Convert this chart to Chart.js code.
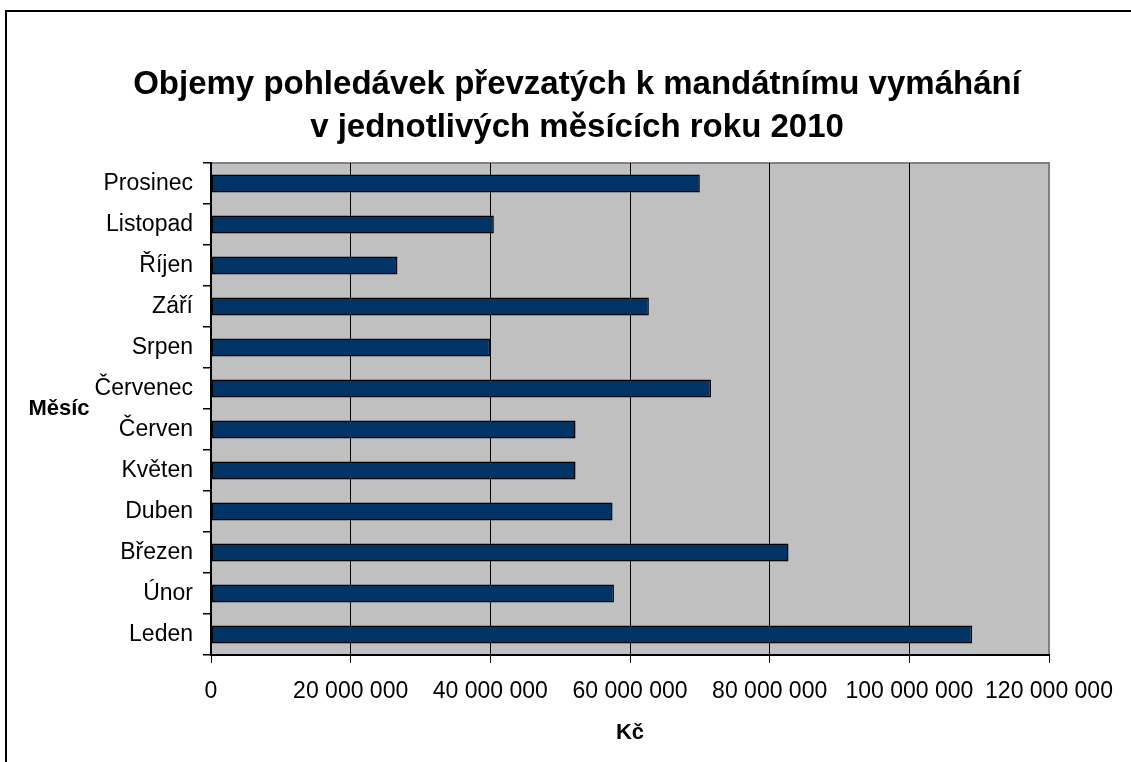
<!DOCTYPE html>
<html>
<head>
<meta charset="utf-8">
<script src="https://cdn.jsdelivr.net/npm/chart.js@4/dist/chart.umd.min.js"></script>
<style>
    html, body { margin: 0; padding: 0; background: #fff; }
    #wrap { width: 1131px; height: 762px; }
</style>
</head>
<body>
<div id="wrap"><canvas id="myChart" width="1131" height="762"></canvas></div>
<script>
// data (Kč per month, 2010)
var mesice = ['Leden', 'Únor', 'Březen', 'Duben', 'Květen', 'Červen', 'Červenec', 'Srpen', 'Září', 'Říjen', 'Listopad', 'Prosinec'];
var objemy = [109000000, 57700000, 82700000, 57500000, 52200000, 52200000, 71600000, 40000000, 62700000, 26700000, 40500000, 70000000];
var titulek = ['Objemy pohledávek převzatých k mandátnímu vymáhání', 'v jednotlivých měsících roku 2010'];
var osaX = 'Kč';
var osaY = 'Měsíc';

var pismo = '"Liberation Sans", Arial, sans-serif';

// mezery jako oddělovač tisíců
function formatKc(value) {
    return String(value).replace(/\B(?=(\d{3})+(?!\d))/g, ' ');
}

var pozadi = {
    id: 'pozadi',
    beforeDraw: (chart) => {
        var ctx = chart.ctx;
        var a = chart.chartArea;
        ctx.save();
        ctx.fillStyle = '#fff';
        ctx.fillRect(0, 0, chart.width, chart.height);
        // ramecek grafu
        ctx.strokeStyle = '#000';
        ctx.lineWidth = 2;
        ctx.strokeRect(6, 11, chart.width + 20, chart.height + 20);
        // plocha grafu
        ctx.fillStyle = '#c0c0c0';
        ctx.fillRect(a.left, a.top, a.right - a.left, a.bottom - a.top);
        ctx.strokeStyle = '#808080';
        ctx.lineWidth = 2;
        ctx.beginPath();
        ctx.moveTo(a.left, a.top);
        ctx.lineTo(a.right, a.top);
        ctx.lineTo(a.right, a.bottom);
        ctx.stroke();
        ctx.restore();
    },
    afterDraw: (chart) => {
        var ctx = chart.ctx;
        var a = chart.chartArea;
        ctx.save();
        ctx.fillStyle = '#000';
        ctx.textAlign = 'center';
        ctx.textBaseline = 'middle';
        ctx.font = 'bold 33px ' + pismo;
        ctx.fillText(titulek[0], 577, 85);
        ctx.fillText(titulek[1], 577, 128);
        ctx.font = 'bold 22px ' + pismo;
        ctx.fillText(osaY, 59, (a.top + a.bottom) / 2);
        ctx.restore();
    }
};

var ctx = document.getElementById('myChart').getContext('2d');
var myChart = new Chart(ctx, {
    type: 'bar',
    data: {
        labels: mesice,
        datasets: [{
            label: osaX,
            data: objemy,
            backgroundColor: '#003366',
            borderColor: '#000',
            borderWidth: 1.5,
            borderSkipped: false,
            categoryPercentage: 1,
            barPercentage: 0.44
        }]
    },
    options: {
        indexAxis: 'y',
        responsive: false,
        animation: false,
        layout: {
            padding: { top: 163, right: 82, left: 0, bottom: 0 }
        },
        plugins: {
            legend: { display: false },
            tooltip: { enabled: false },
            title: { display: false }
        },
        scales: {
            x: {
                min: 0,
                max: 120000000,
                afterFit: (scale) => { scale.height = 107; },
                ticks: {
                    stepSize: 20000000,
                    color: '#000',
                    padding: 15,
                    maxRotation: 0,
                    font: { family: pismo, size: 23 },
                    callback: (value) => formatKc(value)
                },
                grid: {
                    color: (c) => (c.tick && c.tick.value === 120000000) ? '#808080' : '#000',
                    lineWidth: 1,
                    tickLength: 8,
                    tickColor: '#000'
                },
                border: { display: true, color: '#000', width: 2 },
                title: {
                    display: true,
                    text: osaX,
                    color: '#000',
                    font: { family: pismo, size: 22, weight: 'bold' },
                    padding: { top: 0, bottom: 16 }
                }
            },
            y: {
                reverse: true,
                afterFit: (scale) => { scale.width = 211; },
                ticks: {
                    color: '#000',
                    padding: 10,
                    font: { family: pismo, size: 23 }
                },
                grid: {
                    drawOnChartArea: false,
                    tickLength: 8,
                    color: '#000',
                    lineWidth: 1.5
                },
                border: { display: true, color: '#000', width: 2 }
            }
        }
    },
    plugins: [pozadi]
});
</script>
</body>
</html>
